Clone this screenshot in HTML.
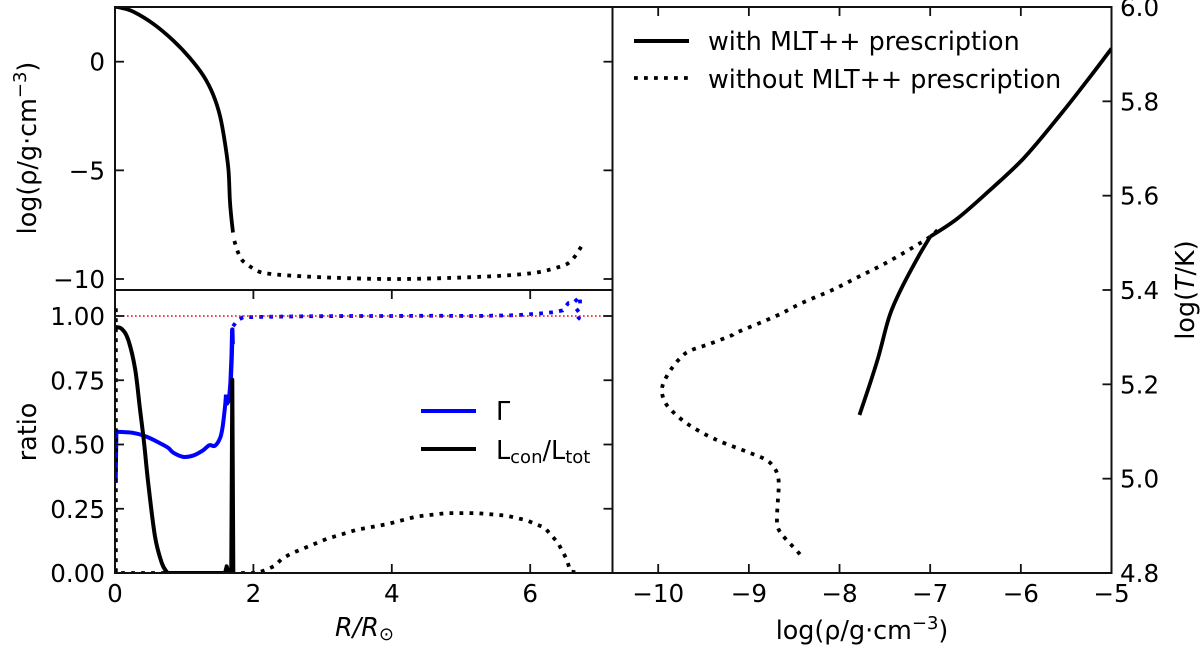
<!DOCTYPE html>
<html>
<head>
<meta charset="utf-8">
<title>Stellar structure with and without MLT++</title>
<style>
html,body{margin:0;padding:0;background:#fff;}
svg{display:block;}
text{font-family:"DejaVu Sans","Liberation Sans",sans-serif;fill:#000;}
</style>
</head>
<body>
<svg id="fig" xmlns="http://www.w3.org/2000/svg" width="1200" height="648" viewBox="0 0 1200 648">
  <rect x="0" y="0" width="1200" height="648" fill="#fff"/>
  <defs>
    <clipPath id="clip-density"><rect x="115" y="7" width="497.5" height="283"/></clipPath>
    <clipPath id="clip-ratio"><rect x="115" y="290" width="497.5" height="283"/></clipPath>
    <clipPath id="clip-hr"><rect x="612.5" y="7" width="499" height="566"/></clipPath>
  </defs>
  <g id="marks"></g>
  <g id="frames">
    <rect x="115" y="7" width="497.5" height="283" fill="none" stroke="#111" stroke-width="2"/>
    <rect x="115" y="290" width="497.5" height="283" fill="none" stroke="#111" stroke-width="2"/>
    <rect x="612.5" y="7" width="499" height="566" fill="none" stroke="#111" stroke-width="2"/>
  </g>
  <g id="ticks"></g>

  <text transform="translate(36,148) rotate(-90)" text-anchor="middle" font-size="25.4">log(ρ/g·cm<tspan font-size="18" dy="-10">−3</tspan><tspan dy="10">)</tspan></text>
  <text transform="translate(36,432) rotate(-90)" text-anchor="middle" font-size="25.4">ratio</text>
  <text x="335" y="636" font-size="25.4" font-style="italic">R/R<tspan font-size="18" dy="4" font-style="normal">⊙</tspan></text>
  <text x="862" y="639" text-anchor="middle" font-size="25.4">log(ρ/g·cm<tspan font-size="18" dy="-10">−3</tspan><tspan dy="10">)</tspan></text>
  <text transform="translate(1194,290) rotate(-90)" text-anchor="middle" font-size="25.4">log(<tspan font-style="italic">T</tspan>/K)</text>

  <g>
    <line x1="421" x2="476" y1="411" y2="411" stroke="#0000ff" stroke-width="4"/>
    <text x="496" y="420" font-size="25.4">Γ</text>
    <line x1="421" x2="476" y1="449" y2="449" stroke="#000" stroke-width="4"/>
    <text x="496" y="459" font-size="25.4">L<tspan font-size="18" dy="4">con</tspan><tspan dy="-4">/L</tspan><tspan font-size="18" dy="4">tot</tspan></text>
  </g>
  <g>
    <line x1="634" x2="689" y1="41" y2="41" stroke="#000" stroke-width="4"/>
    <text x="708" y="50" font-size="25.4">with MLT++ prescription</text>
    <line x1="634" x2="689" y1="78" y2="78" stroke="#000" stroke-width="3.8" stroke-dasharray="3.8 6.2"/>
    <text x="708" y="88" font-size="25.4">without MLT++ prescription</text>
  </g>
</svg>
<script>
// Tick labels
const radiusTicks = [0, 2, 4, 6];
const densityTicks = [0, -5, -10];
const ratioTicks = [0, 0.25, 0.5, 0.75, 1];
const profileRhoTicks = [-10, -9, -8, -7, -6, -5];
const profileTempTicks = [4.8, 5.0, 5.2, 5.4, 5.6, 5.8, 6.0];
const referenceRatio = [1];

// Density profile, with MLT++
const densitySolidR = [0, 0.1, 0.265, 0.554, 0.843, 1.085, 1.28, 1.42, 1.52, 1.59, 1.64, 1.66, 1.68, 1.705];
const densitySolidLogRho = [2.53, 2.47, 2.3, 1.74, 0.97, 0.16, -0.66, -1.53, -2.53, -3.76, -4.99, -6.37, -7.14, -7.86];
// Density profile, without MLT++
const densityDotR = [1.725, 1.77, 1.83, 1.95, 2.07, 2.21, 2.48, 3.15, 4.1, 5.27, 6.0, 6.36, 6.58, 6.75];
const densityDotLogRho = [-8.25, -8.71, -9.11, -9.42, -9.65, -9.75, -9.83, -9.94, -10, -9.9, -9.74, -9.5, -9.2, -8.45];

// Gamma, with MLT++
const gammaStartR = [0.01, 0.02];
const gammaStartValue = [0.35, 0.55];
const gammaCoreR = [0.02, 0.265, 0.458, 0.65, 0.77, 0.843, 0.985, 1.13, 1.27, 1.363, 1.445, 1.52, 1.556, 1.59, 1.604];
const gammaCoreValue = [0.55, 0.545, 0.53, 0.505, 0.487, 0.468, 0.452, 0.457, 0.477, 0.497, 0.495, 0.526, 0.57, 0.648, 0.694];
const gammaEdgeR = [1.604, 1.62, 1.65, 1.67, 1.686, 1.695, 1.7];
const gammaEdgeValue = [0.694, 0.66, 0.674, 0.74, 0.843, 0.947, 0.89];
// Gamma, without MLT++
const gammaDotR = [1.705, 1.77, 1.85, 2.2, 2.8, 3.4, 4.0, 4.6, 5.2, 5.8, 6.24, 6.34, 6.47, 6.55, 6.62, 6.72, 6.72, 6.65, 6.705, 6.66, 6.69];
const gammaDotValue = [0.96, 0.983, 0.995, 0.997, 0.999, 1.0, 1.0, 1.001, 1.0, 1.003, 1.012, 1.015, 1.022, 1.05, 1.05, 1.075, 1.03, 1.015, 0.992, 0.98, 0.969];

// Convective luminosity fraction, with MLT++
const lumCoreR = [0, 0.096, 0.19, 0.29, 0.36, 0.42, 0.48, 0.578, 0.675, 0.747, 0.78];
const lumCoreValue = [0.957, 0.95, 0.908, 0.795, 0.64, 0.507, 0.35, 0.142, 0.04, 0.005, 0];
const lumSpikeR = [0.78, 1.59, 1.614, 1.64, 1.68, 1.695, 1.71];
const lumSpikeValue = [0, 0, 0.026, 0, 0, 0.752, 0];
// Convective luminosity fraction, without MLT++
const lumDotR = [0.012, 0.012, 1.72, 2.05, 2.18, 2.31, 2.41, 2.54, 3.06, 3.49, 3.93, 4.36, 4.79, 5.23, 5.66, 5.95, 6.21, 6.4, 6.53, 6.58, 6.72];
const lumDotValue = [1.03, 0, 0, 0, 0.012, 0.028, 0.055, 0.075, 0.133, 0.168, 0.19, 0.22, 0.233, 0.233, 0.223, 0.205, 0.176, 0.118, 0.052, 0.006, 0];

// Temperature-density profile, with MLT++
const profileUpperRho = [-5, -5.22, -5.55, -5.97, -6.38, -6.71, -7.0];
const profileUpperTemp = [5.912, 5.856, 5.775, 5.679, 5.605, 5.55, 5.513];
const profileLowerRho = [-7.0, -7.13, -7.3, -7.42, -7.48, -7.57, -7.67, -7.78];
const profileLowerTemp = [5.513, 5.471, 5.41, 5.36, 5.325, 5.259, 5.198, 5.135];
// Temperature-density profile, without MLT++
const profileDotRho = [-6.92, -7.0, -7.21, -7.5, -7.79, -8.08, -8.42, -8.71, -9.12, -9.2, -9.43, -9.64, -9.74, -9.85, -9.93, -9.96, -9.94, -9.88, -9.72, -9.54, -9.33, -9.02, -8.81, -8.72, -8.68, -8.67, -8.68, -8.69, -8.68, -8.62, -8.48, -8.4];
const profileDotTemp = [5.527, 5.513, 5.488, 5.456, 5.428, 5.4, 5.372, 5.344, 5.311, 5.303, 5.286, 5.272, 5.259, 5.234, 5.208, 5.188, 5.169, 5.15, 5.122, 5.1, 5.08, 5.057, 5.04, 5.023, 5.006, 4.985, 4.953, 4.917, 4.896, 4.878, 4.849, 4.832];

const NS = 'http://www.w3.org/2000/svg';
const marks = document.getElementById('marks');
const ticks = document.getElementById('ticks');

function linear(d0, d1, r0, r1) {
  return function (v) { return r0 + (v - d0) * (r1 - r0) / (d1 - d0); };
}
const xRadius = linear(0, 2, 115, 253.4);
const yDensity = linear(0, -10, 61.7, 279);
const yRatio = linear(0, 1, 573, 316);
const xProfile = linear(-10, -5, 658.2, 1111.5);
const yProfile = linear(6, 4.8, 7, 573);

function pathFor(pts, smooth) {
  let d = 'M' + pts[0][0].toFixed(2) + ' ' + pts[0][1].toFixed(2);
  for (let i = 1; i < pts.length; i++) {
    const p1 = pts[i - 1];
    const p2 = pts[i];
    if (smooth) {
      const p0 = pts[Math.max(i - 2, 0)];
      const p3 = pts[Math.min(i + 1, pts.length - 1)];
      const c1x = p1[0] + (p2[0] - p0[0]) / 6;
      const c1y = p1[1] + (p2[1] - p0[1]) / 6;
      const c2x = p2[0] - (p3[0] - p1[0]) / 6;
      const c2y = p2[1] - (p3[1] - p1[1]) / 6;
      d += 'C' + c1x.toFixed(2) + ' ' + c1y.toFixed(2) + ' ' + c2x.toFixed(2) + ' ' + c2y.toFixed(2) + ' ' + p2[0].toFixed(2) + ' ' + p2[1].toFixed(2);
    } else {
      d += 'L' + p2[0].toFixed(2) + ' ' + p2[1].toFixed(2);
    }
  }
  return d;
}

function drawSeries(name, xs, ys, xFn, yFn, color, width, dash, clip, smooth) {
  const p = document.createElementNS(NS, 'path');
  
  
  p.setAttribute('d', pathFor(xs.map(function (x, i) { return [xFn(x), yFn(ys[i])]; }), smooth));
  p.setAttribute('fill', 'none');
  p.setAttribute('stroke', color);
  p.setAttribute('stroke-width', width);
  p.setAttribute('stroke-linejoin', 'round');
  if (dash) { p.setAttribute('stroke-dasharray', dash); }
  p.setAttribute('clip-path', 'url(#' + clip + ')');
  marks.appendChild(p);
}

function tickLine(x1, y1, x2, y2) {
  const l = document.createElementNS(NS, 'line');
  
  
  l.setAttribute('x1', x1);
  l.setAttribute('y1', y1);
  l.setAttribute('x2', x2);
  l.setAttribute('y2', y2);
  l.setAttribute('stroke', '#111');
  l.setAttribute('stroke-width', '1.8');
  ticks.appendChild(l);
}

function tickLabel(str, x, y, anchor) {
  const t = document.createElementNS(NS, 'text');
  
  
  t.setAttribute('x', x);
  t.setAttribute('y', y);
  t.setAttribute('text-anchor', anchor);
  t.setAttribute('font-size', '24.6');
  t.textContent = str;
  ticks.appendChild(t);
}

function minus(v, digits) {
  const s = Math.abs(v).toFixed(digits);
  return (v < 0 ? '\u2212' : '') + s;
}

const TL = 9;
const DOT = '3.8 6.2';

// Density panel
densityTicks.forEach(function (v) {
  const y = yDensity(v);
  tickLine(115, y, 115 + TL, y);
  tickLine(612.5, y, 612.5 - TL, y);
  tickLabel(minus(v, 0), 105, y + 9, 'end');
});
drawSeries('density-with-mlt-line', densitySolidR, densitySolidLogRho, xRadius, yDensity, '#000', 3.8, null, 'clip-density', true);
drawSeries('density-without-mlt-line', densityDotR, densityDotLogRho, xRadius, yDensity, '#000', 3.8, DOT, 'clip-density', true);

// Ratio panel
ratioTicks.forEach(function (v) {
  const y = yRatio(v);
  tickLine(115, y, 115 + TL, y);
  tickLine(612.5, y, 612.5 - TL, y);
  tickLabel(v.toFixed(2), 105, y + 9, 'end');
});
radiusTicks.forEach(function (v) {
  const x = xRadius(v);
  tickLine(x, 573, x, 573 - TL);
  tickLine(x, 290, x, 290 + TL);
  tickLabel(String(v), x, 602, 'middle');
});
drawSeries('gamma-start-with-mlt-line', gammaStartR, gammaStartValue, xRadius, yRatio, '#0000ff', 4, null, 'clip-ratio', false);
drawSeries('gamma-core-with-mlt-line', gammaCoreR, gammaCoreValue, xRadius, yRatio, '#0000ff', 4, null, 'clip-ratio', true);
drawSeries('gamma-edge-with-mlt-line', gammaEdgeR, gammaEdgeValue, xRadius, yRatio, '#0000ff', 4.4, null, 'clip-ratio', false);
drawSeries('gamma-without-mlt-line', gammaDotR, gammaDotValue, xRadius, yRatio, '#0000ff', 3.8, DOT, 'clip-ratio', false);
drawSeries('luminosity-without-mlt-line', lumDotR, lumDotValue, xRadius, yRatio, '#000', 3.8, DOT, 'clip-ratio', false);
drawSeries('luminosity-core-with-mlt-line', lumCoreR, lumCoreValue, xRadius, yRatio, '#000', 4, null, 'clip-ratio', true);
drawSeries('luminosity-spike-with-mlt-line', lumSpikeR, lumSpikeValue, xRadius, yRatio, '#000', 4, null, 'clip-ratio', false);
drawSeries('unity-reference-line', [0, 7.2], [referenceRatio[0], referenceRatio[0]], xRadius, yRatio, '#ff0000', 1.6, '1.6 2.4', 'clip-ratio', false);

// Temperature-density panel
profileRhoTicks.forEach(function (v) {
  const x = xProfile(v);
  tickLine(x, 573, x, 573 - TL);
  tickLine(x, 7, x, 7 + TL);
  tickLabel(minus(v, 0), x, 602, 'middle');
});
profileTempTicks.forEach(function (v) {
  const y = yProfile(v);
  tickLine(1111.5, y, 1111.5 - TL, y);
  tickLabel(v.toFixed(1), 1120, y + 9, 'start');
});
drawSeries('profile-without-mlt-line', profileDotRho, profileDotTemp, xProfile, yProfile, '#000', 3.8, DOT, 'clip-hr', true);
drawSeries('profile-upper-with-mlt-line', profileUpperRho, profileUpperTemp, xProfile, yProfile, '#000', 3.8, null, 'clip-hr', true);
drawSeries('profile-lower-with-mlt-line', profileLowerRho, profileLowerTemp, xProfile, yProfile, '#000', 3.8, null, 'clip-hr', true);
</script>
</body>
</html>
